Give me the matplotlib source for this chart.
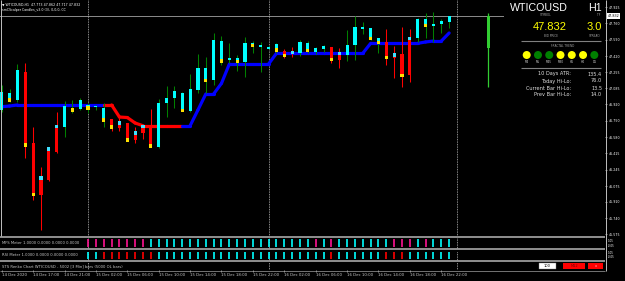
import matplotlib
matplotlib.use("Agg")
import matplotlib.pyplot as plt
import matplotlib.transforms as mtransforms
import numpy as np
from matplotlib.collections import LineCollection
from matplotlib.patches import Rectangle

plt.rcParams['font.family'] = ['DejaVu Sans']

# --- WTICOUSD H1 candles (Scalper Candles view) ---
opens = [46.862, 46.965, 46.965, 47.258, 46.520, 46.158, 46.458, 46.689, 46.689, 46.862,
         46.872, 46.883, 46.889, 46.758, 46.769, 46.727, 46.727, 46.624, 46.689, 46.696,
         46.476, 46.931, 46.986, 46.855, 46.851, 47.069, 47.165, 47.172, 47.369, 47.379,
         47.362, 47.362, 47.532, 47.511, 47.493, 47.483, 47.473, 47.452, 47.449, 47.476,
         47.465, 47.493, 47.511, 47.449, 47.431, 47.535, 47.700, 47.604, 47.563, 47.563,
         47.431, 47.438, 47.604, 47.604, 47.735, 47.731, 47.749, 47.770]
closes = [47.048, 47.041, 47.276, 46.500, 45.985, 45.982, 46.137, 46.430, 46.903, 46.883,
          46.965, 46.914, 46.900, 46.880, 46.686, 46.676, 46.551, 46.551, 46.624, 46.489,
          46.934, 46.989, 47.059, 47.041, 47.079, 47.300, 47.294, 47.587, 47.579, 47.403,
          47.397, 47.559, 47.552, 47.535, 47.517, 47.542, 47.424, 47.445, 47.566, 47.559,
          47.507, 47.524, 47.387, 47.379, 47.535, 47.724, 47.724, 47.708, 47.604, 47.407,
          47.403, 47.217, 47.224, 47.801, 47.801, 47.749, 47.783, 47.832]
highs = [47.121, 47.079, 47.338, 47.352, 46.689, 46.275, 46.468, 46.844, 46.955, 46.965,
         46.989, 46.934, 46.914, 46.934, 46.769, 46.776, 46.730, 46.686, 46.696, 46.875,
         46.975, 47.110, 47.110, 47.048, 47.235, 47.442, 47.414, 47.659, 47.628, 47.552,
         47.431, 47.621, 47.576, 47.566, 47.520, 47.559, 47.493, 47.517, 47.587, 47.576,
         47.511, 47.535, 47.517, 47.501, 47.690, 47.838, 47.776, 47.712, 47.610, 47.700,
         47.528, 47.724, 47.700, 47.811, 47.863, 47.873, 47.804, 47.835]
lows = [46.841, 46.948, 46.948, 46.365, 45.930, 45.620, 46.127, 46.417, 46.582, 46.831,
        46.862, 46.831, 46.862, 46.689, 46.648, 46.648, 46.545, 46.523, 46.562, 46.482,
        46.470, 46.786, 46.886, 46.851, 46.844, 47.041, 47.038, 47.121, 47.328, 47.345,
        47.269, 47.207, 47.455, 47.258, 47.490, 47.455, 47.397, 47.407, 47.424, 47.449,
        47.442, 47.465, 47.352, 47.294, 47.369, 47.379, 47.646, 47.587, 47.455, 47.328,
        47.190, 47.103, 47.155, 47.563, 47.604, 47.569, 47.656, 47.708]
# square marks on candles: y = yellow (body bottom), c = cyan (body top), . = none
mark_kind = ".y.yyccc.y.y.yycyccy...y..y.y.y.y..yyc.y..yc...yyycyc.y..."

# trend line under the candles, b = blue (up), r = red (down)
trend = [46.896, 46.903] + [46.914] * 13 + [46.789, 46.784, 46.727] + [46.699] * 7 + \
        [46.862, 47.028, 47.028, 47.138] + [47.338] * 6 + [47.449] * 12 + [47.552] * 7 + \
        [47.566, 47.576, 47.576, 47.659]
trend_dir = "b" * 14 + "r" * 10 + "b" * 34

bid = 47.832
cur_open, cur_close, cur_high, cur_low = 47.507, 47.832, 47.869, 47.103
sep_bars = [11, 34, 58]

price_ticks = [47.925, 47.760, 47.590, 47.420, 47.255, 47.085, 46.920, 46.750,
               46.580, 46.415, 46.245, 46.075, 45.910, 45.740, 45.575]

# meters (start at bar 11): u = up colour, d = down colour
meter_start = 11
mfs = "d" * 8 + "u" * 21 + "d" + "u" + "d" + "u" * 7 + "d" * 3 + "u" + "d" + "u" * 3
rsi = "u" * 2 + "d" * 7 + "u" * 22 + "d" + "u" * 6 + "d" * 3 + "u" * 6

time_idx = [0, 4, 8, 12, 16, 20, 24, 28, 32, 36, 40, 44, 48, 52, 56]
time_labels = ["14 Dec 2020", "14 Dec 17:00", "14 Dec 21:00", "15 Dec 02:00", "15 Dec 06:00",
               "15 Dec 10:00", "15 Dec 14:00", "15 Dec 18:00", "15 Dec 22:00", "16 Dec 02:00",
               "16 Dec 06:00", "16 Dec 10:00", "16 Dec 14:00", "16 Dec 18:00", "16 Dec 22:00"]

tf_names = ["M1", "M5", "M15", "M30", "H1", "H4", "D1"]
tf_trend = ["up", "dn", "dn", "up", "up", "up", "dn"]
stat_names = ["10 Days ATR:", "Today Hi-Lo:", "Current Bar Hi-Lo:", "Prev Bar Hi-Lo:"]
stat_values = [135.4, 76.0, 13.5, 14.0]

CYAN, RED, GREEN, YEL, PINK = '#00FFFF', '#FF0000', '#008000', '#FFE000', '#FF1493'

W, H = 625, 281
fig = plt.figure(figsize=(W / 100, H / 100), dpi=100, facecolor='black')


def box(x0, y0, x1, y1):
    # pixel rectangle (y down) -> figure fraction
    return [x0 / W, 1 - y1 / H, (x1 - x0) / W, (y1 - y0) / H]


XL = (-1.7 / 7.85, (605 - 1.7) / 7.85)

ax = fig.add_axes(box(0, 0, 605, 236))
ax.set_facecolor('black')
ax.set_xlim(*XL)
ax.set_ylim(45.5575, 48.0006)
for s in ax.spines.values():
    s.set_visible(False)
ax.set_xticks([])
ax.yaxis.tick_right()
ax.set_yticks(price_ticks)
ax.set_yticklabels(['%.3f' % p for p in price_ticks])
ax.tick_params(axis='y', colors='#C0C0C0', labelcolor='white', labelsize=2.3,
               length=1.5, width=0.5, pad=1.5)

# candles
o, c = np.array(opens), np.array(closes)
hi, lo = np.array(highs), np.array(lows)
xs = np.arange(len(o))
up = c >= o
ax.vlines(xs, lo, hi, colors=np.where(up, GREEN, RED), lw=0.75, zorder=3)
body_lo = np.minimum(o, c)
body_h = np.maximum(np.abs(c - o), 0.015)
ax.bar(xs, body_h, bottom=body_lo, width=0.4, color=np.where(up, CYAN, RED), lw=0, zorder=4)

kinds = np.array(list(mark_kind))
ym = np.where(kinds == 'y', body_lo, body_lo + body_h)
sel = kinds != '.'
ax.scatter(xs[sel], ym[sel], marker='s', s=5, lw=0, zorder=5,
           c=[YEL if k == 'y' else '#40E0FF' for k in kinds[sel]])

# trend line
pts = np.column_stack([xs, trend])
segs = np.stack([pts[:-1], pts[1:]], axis=1)
cols = ['#0000FF' if d == 'b' else RED for d in trend_dir[1:]]
ax.add_collection(LineCollection(segs, colors=cols, lw=2.3, capstyle='round', zorder=2))

# bid line and current-bar candle
ax.axhline(bid, xmax=503 / 605, color='#8C8C8C', lw=0.7, zorder=1)
cur_pos = 62
ax.vlines(cur_pos, cur_low, cur_high, color='#32CD32', lw=0.9, zorder=3)
ax.bar(cur_pos, cur_close - cur_open, bottom=cur_open, width=0.42, color='#32CD32', lw=0, zorder=4)

trans = mtransforms.blended_transform_factory(ax.transAxes, ax.transData)
ax.text(1.004, bid, '%.3f' % bid, transform=trans, fontsize=2.4, color='black',
        va='center', ha='left', clip_on=False, zorder=10,
        bbox=dict(boxstyle='square,pad=0.25', fc='white', ec='none'))

# indicator sub-windows
ax1 = fig.add_axes(box(0, 237.5, 605, 248.5))
ax1.set_ylim(-0.234, 1.195)
ax2 = fig.add_axes(box(0, 250.5, 605, 260.5))
ax2.set_ylim(-0.158, 1.158)
ax3 = fig.add_axes(box(0, 262, 605, 270))
ax3.set_ylim(0, 1)
for a in (ax1, ax2, ax3):
    a.set_xlim(*XL)
    a.patch.set_alpha(0)
    for s in a.spines.values():
        s.set_visible(False)
    a.set_yticks([])
    a.set_xticks([])

mx = np.arange(meter_start, meter_start + len(mfs))
ax1.vlines(mx, 0, 1, colors=[CYAN if m == 'u' else PINK for m in mfs], lw=1.2)
ax2.vlines(mx, 0, 1, colors=[CYAN if m == 'u' else RED for m in rsi], lw=1.2)

lab = dict(fontsize=2.7, color='#C8C8C8', va='center', ha='left')
ax1.text(0.003, 0.5, "MFS Meter 1.0000 0.0000 0.0000 0.0000", transform=ax1.transAxes, **lab)
ax2.text(0.003, 0.5, "RSI Meter 1.0000 0.0000 0.0000 0.0000", transform=ax2.transAxes, **lab)
ax3.text(0.004, 0.45, "STS Renko Chart WTICOUSD - 5002 [3 Min] bars (5000 OL bars)",
         transform=ax3.transAxes, **lab)

ax3.set_xticks(time_idx)
ax3.set_xticklabels(time_labels, ha='left', fontsize=2.8, color='#C8C8C8')
ax3.tick_params(axis='x', length=1.5, width=0.5, color='#C0C0C0', pad=1)

for a in (ax, ax1, ax2, ax3):
    for s in sep_bars:
        a.axvline(s, color='#BBBBBB', lw=0.6, ls=(0, (1, 1)), zorder=1)

# overlay in pixel units for frame lines and the info panel
ov = fig.add_axes([0, 0, 1, 1])
ov.set_xlim(0, W)
ov.set_ylim(H, 0)
ov.axis('off')
ov.patch.set_alpha(0)

ov.hlines([236.6, 249.4, 261.3], 0, 605, color='#A8A8A8', lw=1.2)
ov.hlines(270.5, 0, 605, color='#A0A0A0', lw=0.5)
ov.vlines(605.5, 0, 271, color='#C0C0C0', lw=0.7)
ov.vlines(1, 0, 236, color='#C0C0C0', lw=0.7)

for yy, t in [(240.5, "1.05"), (246, "-0.05"), (253, "1.05"), (257.5, "-0.05")]:
    ov.text(608, yy, t, fontsize=2, color='white', va='center')

ov.text(2, 4.5, "\u25bc WTICOUSD,H1  47.773 47.862 47.717 47.832", fontsize=2.3,
        color='white', va='center')
ov.text(2, 10.5, "smCScalper Candles_v3.0 (3), 0,0,0, CC", fontsize=2.3,
        color='white', va='center')

big = dict(family=['Liberation Sans', 'DejaVu Sans'], va='center')
small = dict(fontsize=2.1, color='#A0A0A0', va='center', ha='center')
ov.text(539, 7.8, "WTICOUSD", fontsize=7.7, color='white', ha='center', **big)
ov.text(602, 7.8, "H1", fontsize=7.7, color='white', ha='right', **big)
ov.text(546, 15.5, "SYMBOL", **small)
ov.text(598.5, 15.5, "TF", **small)
ov.text(550, 27, "%.3f" % bid, fontsize=8, color='#FFFF00', ha='center', **big)
ov.text(602, 27, "3.0", fontsize=8, color='#FFFF00', ha='right', **big)
ov.text(551, 36, "BID PRICE", **small)
ov.text(595, 36, "SPREAD", **small)
ov.hlines([41.3, 67.7], 521, 601, color='#808080', lw=0.8)
ov.text(563, 46, "FRACTAL TREND", **small)

cx = 526.7 + 11.27 * np.arange(len(tf_names))
ov.scatter(cx, np.full(len(cx), 55), s=33, lw=0,
           c=['#FFFF00' if t == 'up' else GREEN for t in tf_trend])
for x_, n in zip(cx, tf_names):
    ov.text(x_, 62.3, n, fontsize=2.1, color='#D0D0D0', va='center', ha='center')

for i, (n, v) in enumerate(zip(stat_names, stat_values)):
    yy = 74 + 7 * i
    ov.text(571, yy, n, fontsize=3.6, color='#E0E0E0', va='center', ha='right')
    ov.text(602, yy, "%.1f" % v, fontsize=3.6, color='#E0E0E0', va='center', ha='right')

# buttons of the renko panel
ov.add_patch(Rectangle((539, 263), 17, 6, fc='white', ec='#808080', lw=0.3))
ov.text(547.5, 266, "100", fontsize=2.6, color='black', va='center', ha='center')
ov.add_patch(Rectangle((563, 263), 22, 6, fc=RED, ec='none'))
ov.text(574, 266, "M12", fontsize=2.6, color='#800000', va='center', ha='center')
ov.add_patch(Rectangle((588, 263), 15, 6, fc=RED, ec='none'))
ov.text(595.5, 266, "x", fontsize=2.6, color='#FFC0C0', va='center', ha='center')

fig.savefig("out.png", dpi=100, facecolor='black')
